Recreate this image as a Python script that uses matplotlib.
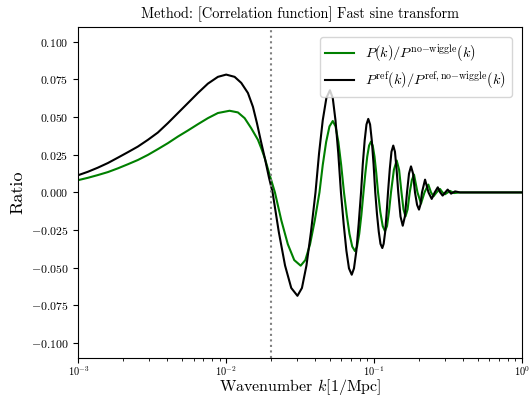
import matplotlib
matplotlib.use('Agg')
import matplotlib.pyplot as plt

plt.rcParams['font.family'] = 'serif'
plt.rcParams['font.serif'] = ['cmr10']
plt.rcParams['mathtext.fontset'] = 'cm'
plt.rcParams['axes.formatter.use_mathtext'] = True

# wavenumber [1/Mpc] and ratio
k_ref = [0.00100, 0.001158, 0.00135, 0.001581, 0.00185, 0.002159, 0.00252,
         0.002949, 0.00344, 0.004026, 0.00471, 0.005499, 0.00643, 0.007508,
         0.008774, 0.00998, 0.01138, 0.01262, 0.01400, 0.01514, 0.01611, 0.01714,
         0.01824, 0.01942, 0.02056, 0.02265, 0.02496, 0.02749, 0.03027, 0.03247,
         0.03483, 0.03736, 0.0401, 0.04239, 0.04489, 0.04749, 0.0502, 0.05248,
         0.05473, 0.05717, 0.0596, 0.06218, 0.06486, 0.06754, 0.0705, 0.07301,
         0.0758, 0.07855, 0.0815, 0.08373, 0.08624, 0.08869, 0.0912, 0.09382,
         0.09634, 0.09906, 0.1017, 0.1044, 0.1074, 0.1103, 0.1135, 0.1159, 0.1187,
         0.1213, 0.1240, 0.1275, 0.1309, 0.1346, 0.1382, 0.1417, 0.1455, 0.1507,
         0.1560, 0.1613, 0.1667, 0.1720, 0.1774, 0.1832, 0.1888, 0.1950, 0.2009,
         0.2057, 0.2105, 0.2208, 0.2330, 0.2449, 0.2566, 0.2692, 0.2796, 0.2904,
         0.3022, 0.3141, 0.3311, 0.3524, 0.3808, 1.0]
ratio_ref = [0.0115, 0.0137, 0.0164, 0.0195, 0.0231, 0.0267, 0.0304, 0.0349,
             0.0397, 0.0460, 0.0527, 0.0593, 0.0660, 0.0722, 0.0767, 0.0782,
             0.0767, 0.0727, 0.0660, 0.0568, 0.0460, 0.0340, 0.0225, 0.0100, 0.0,
             -0.0263, -0.0485, -0.0634, -0.0686, -0.0634, -0.0485, -0.0263, 0.0,
             0.0260, 0.0479, 0.0626, 0.0678, 0.0626, 0.0479, 0.0260, 0.0,
             -0.0209, -0.0386, -0.0504, -0.0546, -0.0504, -0.0386, -0.0209, 0.0,
             0.0187, 0.0345, 0.0451, 0.0488, 0.0451, 0.0345, 0.0187, 0.0,
             -0.0141, -0.0261, -0.0341, -0.0369, -0.0341, -0.0261, -0.0141, 0.0,
             0.0155, 0.027, 0.0311, 0.027, 0.0155, 0.0, -0.016, -0.0221, -0.016,
             0.0, 0.0125, 0.0173, 0.0125, 0.0, -0.0082, -0.0114, -0.008, 0.0,
             0.0085, 0.0, -0.0043, 0.0, 0.0034, 0.0, -0.0021, 0.0, 0.0019,
             -0.0008, 0.0007, 0.0, 0.0]

k_pk = [0.00100, 0.001158, 0.00135, 0.001581, 0.00185, 0.002159, 0.00252,
        0.002949, 0.00344, 0.004026, 0.00471, 0.005499, 0.00643, 0.007508,
        0.008774, 0.01052, 0.01198, 0.0133, 0.01472, 0.01637, 0.01728, 0.01824,
        0.01972, 0.02132, 0.02356, 0.02607, 0.0288, 0.03183, 0.03423, 0.03684,
        0.03964, 0.04265, 0.04489, 0.04733, 0.04984, 0.05248, 0.05481, 0.05726,
        0.05981, 0.06248, 0.06522, 0.06806, 0.07105, 0.0741, 0.07662, 0.07924,
        0.08193, 0.08464, 0.0872, 0.08974, 0.09237, 0.09513, 0.09777, 0.1005,
        0.1033, 0.1062, 0.1100, 0.1142, 0.1183, 0.1221, 0.1259, 0.1299, 0.1359,
        0.1420, 0.1474, 0.1530, 0.1578, 0.1628, 0.1683, 0.1739, 0.1799, 0.1859,
        0.1963, 0.2074, 0.2189, 0.2323, 0.2423, 0.2519, 0.2640, 0.2786, 0.2898,
        0.3013, 0.3258, 0.3466, 0.3808, 1.0]
ratio_pk = [0.0082, 0.0097, 0.0115, 0.0135, 0.0160, 0.0187, 0.0215, 0.0249,
            0.0287, 0.0327, 0.0371, 0.0411, 0.0453, 0.0493, 0.0527, 0.0542,
            0.0531, 0.0493, 0.0427, 0.0349, 0.029, 0.0225, 0.011, 0.0,
            -0.0186, -0.0344, -0.0449, -0.0486, -0.0449, -0.0344, -0.0186, 0.0,
            0.0182, 0.0335, 0.0438, 0.0474, 0.0438, 0.0335, 0.0182, 0.0,
            -0.0149, -0.0275, -0.0359, -0.0389, -0.0359, -0.0275, -0.0149, 0.0,
            0.0129, 0.0238, 0.0311, 0.0337, 0.0311, 0.0238, 0.0129, 0.0,
            -0.0129, -0.0223, -0.0257, -0.0223, -0.0129, 0.0, 0.015, 0.0212,
            0.015, 0.0, -0.0112, -0.0159, -0.0112, 0.0, 0.0083, 0.0118, 0.0,
            -0.0074, 0.0, 0.0052, 0.0, -0.0026, 0.0, 0.0023, 0.0, -0.0012,
            0.0010, -0.0004, 0.0, 0.0]

k_mark = 0.02

fig = plt.figure(figsize=(5.3, 3.98), dpi=100)
ax = fig.add_axes([0.148, 0.100, 0.837, 0.833])
ax.plot(k_pk, ratio_pk, c='green', lw=1.5,
        label=r'$P(k)/P^{\rm no{-}wiggle}(k)$')
ax.plot(k_ref, ratio_ref, c='k', lw=1.5,
        label=r'$P^{\rm ref}(k)/P^{\rm ref,no{-}wiggle}(k)$')
ax.axvline(x=k_mark, c='gray', ls=':', lw=1.5)
ax.set_xscale('log')
ax.set_xlim([1e-3, 1])
ax.set_ylim([-0.11, 0.11])
ax.set_yticks([-0.1, -0.075, -0.05, -0.025, 0, 0.025, 0.05, 0.075, 0.1])
ax.set_yticklabels(['$-0.100$', '$-0.075$', '$-0.050$', '$-0.025$', '$0.000$',
                    '$0.025$', '$0.050$', '$0.075$', '$0.100$'])
ax.tick_params(axis='y', labelsize=8.5)
ax.tick_params(axis='x', labelsize=7.5, pad=1)
ax.set_title('Method: [Correlation function] Fast sine transform', fontsize=10.3)
ax.set_xlabel(r'Wavenumber $k$[1/Mpc]', fontsize=11.5)
ax.xaxis.set_label_coords(0.5, -0.058)
ax.set_ylabel('Ratio', fontsize=13)
ax.legend(loc='upper right', fontsize=10.3, borderaxespad=0.7, labelspacing=0.35)

plt.savefig('out.png', dpi=100)
